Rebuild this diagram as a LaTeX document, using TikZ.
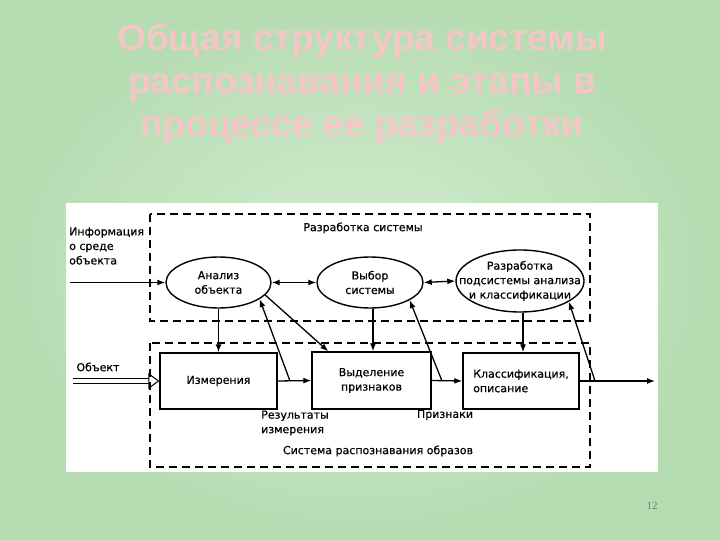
\documentclass[tikz,border=0pt]{standalone}
\usepackage{fontspec}
\setmainfont{DejaVu Sans}
\newfontfamily\diagfamily{DejaVu Sans}[FakeBold=0.6]
\newfontfamily\titlefont{Liberation Sans}
\newfontfamily\numfont{Liberation Serif}
\usetikzlibrary{arrows.meta}
\usetikzlibrary{calc}
\usetikzlibrary{shapes.geometric}
\definecolor{bglight}{RGB}{210,236,206}
\definecolor{bgdark}{RGB}{182,220,178}
\definecolor{titlepink}{RGB}{244,198,198}
\definecolor{numgray}{RGB}{110,125,110}
\newcommand{\diagfont}{\diagfamily\fontsize{11}{14.5}\selectfont}

\begin{document}
\begin{tikzpicture}[x=1pt, y=-1pt,
    stage/.style={draw, ellipse, line width=1.4pt, inner sep=0pt, align=center, font=\diagfont},
    block/.style={draw, rectangle, line width=1.4pt, inner sep=0pt, align=center, font=\diagfont},
    groupbox/.style={line width=2pt, dash pattern=on 8pt off 5pt},
    link/.style={line width=1.3pt, -{Latex[length=8pt,width=6pt]}},
    both/.style={line width=1.3pt, {Latex[length=8pt,width=6pt]}-{Latex[length=8pt,width=6pt]}},
    label/.style={align=left, inner sep=0pt, font=\diagfont}]

    % background and slide
    \shade[inner color=bglight, outer color=bgdark] (0,0) rectangle (720,540);
    \useasboundingbox (0,0) rectangle (720,540);
    \node[font=\titlefont\bfseries\fontsize{37}{43}\selectfont, text=titlepink, align=center] (title) at (362,84)
        {Общая структура системы\\распознавания и этапы в\\процессе ее разработки};
    \node[font=\numfont\fontsize{11}{13}\selectfont, text=numgray] (page) at (652,506) {12};
    \fill[white] (66,203) rectangle (658,472);

    % the two groups
    \draw[groupbox] (150,214) rectangle (590,321);
    \draw[groupbox] (150,343) rectangle (590,467);
    \node[label] (devlabel) at (363,228) {Разработка системы};
    \node[label] (reclabel) at (378,451) {Система распознавания образов};

    % development stages
    \node[stage, minimum width=105pt, minimum height=51pt] (a1) at (218.5,282.5) {Анализ\\объекта};
    \node[stage, minimum width=106pt, minimum height=51pt] (a2) at (370,282.5) {Выбор\\системы};
    \node[stage, inner xsep=-16pt, minimum width=128pt, minimum height=62pt] (a3) at (520,281) {Разработка\\подсистемы анализа\\и классификации};

    % recognition blocks
    \node[block, minimum width=117pt, minimum height=56pt] (m) at (218.5,381) {Измерения};
    \node[block, minimum width=119pt, minimum height=57pt] (v) at (371.5,380.5) {Выделение\\признаков};
    \node[block, minimum width=116pt, minimum height=56pt, align=left] (k) at (521,381) {Классификация,\\описание};

    % inputs and output
    \node[label, anchor=west] (info) at (69,246) {Информация\\о среде\\объекта};
    \node[label] (obj) at (98,367) {Объект};
    \coordinate (in1) at (70,282.5);
    \coordinate (in2) at (73,381);
    \coordinate (out) at (655,381);
    \draw[link] (in1) -- (a1.west);
    \draw[line width=1pt, double, double distance=4pt, -{Triangle[open,length=11pt,width=16pt]}] (in2) -- (m.west);
    \draw[link] (m.east) -- (v.west);
    \draw[link] (v.east) -- (k.west);
    \draw[link] (k.east) -- (out);

    % links between stages
    \draw[both] (a1.east) -- (a2.west);
    \draw[both] (a2.east) -- (a3.west);
    \draw[link] (a1.south) -- (a1.south |- m.north);
    \draw[link] ([xshift=3pt]a2.south) -- ([xshift=3pt]a2.south |- v.north);
    \draw[link] ([xshift=3pt]a3.south) -- ([xshift=3pt]a3.south |- k.north);
    \draw[link] (a1.-15) -- ([xshift=17pt]v.north west);

    % feedback
    \coordinate (fb1) at (290,381);
    \coordinate (fb2) at (442,381);
    \coordinate (fb3) at (595,381);
    \draw[link] (fb1) -- (a1.-22);
    \draw[link] (fb2) -- (a2.-24);
    \draw[link] (fb3) -- (a3.-23);
    \node[label, anchor=west] (res) at (261,423) {Результаты\\измерения};
    \node[label] (feat) at (445,415) {Признаки};
\end{tikzpicture}
\end{document}
